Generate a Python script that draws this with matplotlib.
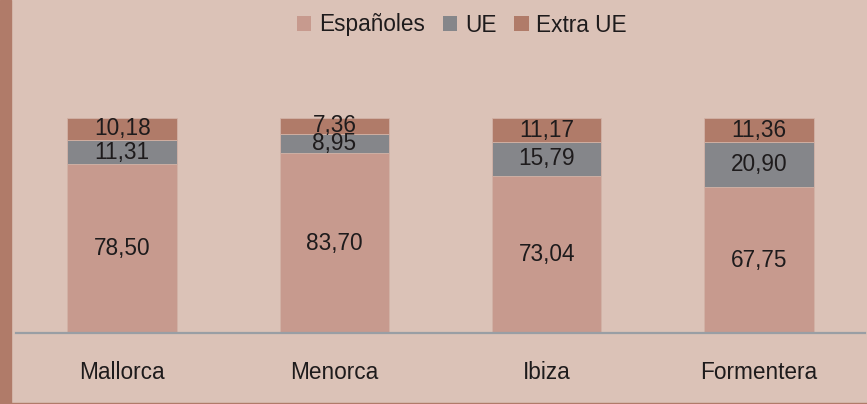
import matplotlib
matplotlib.use("Agg")
import matplotlib.pyplot as plt
from matplotlib.patches import Rectangle, Patch
import numpy as np

islands = ["Mallorca", "Menorca", "Ibiza", "Formentera"]
espanoles = [78.50, 83.70, 73.04, 67.75]
ue = [11.31, 8.95, 15.79, 20.90]
extra_ue = [10.18, 7.36, 11.17, 11.36]
series_names = ["Españoles", "UE", "Extra UE"]

bg = "#dbc2b7"
c_esp = "#c79a8e"
c_ue = "#85868a"
c_ext = "#b07b69"
fs = 16.3

plt.rcParams['font.family'] = ['Liberation Sans', 'DejaVu Sans']

W, H = 867, 404
fig = plt.figure(figsize=(W/100, H/100), dpi=100, facecolor=bg)
ax = fig.add_axes([16/W, (H-333)/H, (865-16)/W, 215/H])
ax.set_facecolor(bg)

x = np.arange(len(islands))
width = 0.515
bottoms = np.zeros(len(islands))
for vals, col in zip([espanoles, ue, extra_ue], [c_esp, c_ue, c_ext]):
    vals = np.array(vals)
    ax.bar(x, vals, width, bottom=bottoms, color=col, edgecolor="#d2b2a6", linewidth=0.6, zorder=2)
    for xi, b, v in zip(x, bottoms, vals):
        ax.text(xi, b + v/2, f"{v:.2f}".replace(".", ","), ha="center", va="center",
                fontsize=fs, color="#1e1b1c", zorder=3)
    bottoms = bottoms + vals

ax.set_xlim(-0.5, 3.5)
ax.set_ylim(0, 100)
ax.set_yticks([])
ax.set_xticks(x)
ax.set_xticklabels(islands, fontsize=fs, color="#1e1b1c")
ax.tick_params(axis="x", length=0, pad=20)
for s in ["top", "right", "left"]:
    ax.spines[s].set_visible(False)
ax.spines["bottom"].set_color("#999ea4")
ax.spines["bottom"].set_linewidth(1.6)

handles = [Patch(facecolor=c, edgecolor="none") for c in [c_esp, c_ue, c_ext]]
leg = fig.legend(handles, series_names, loc="center", bbox_to_anchor=(462/W, 1 - 25/H),
                 ncol=3, frameon=False, fontsize=fs, handlelength=0.62, handleheight=0.62,
                 handletextpad=0.35, columnspacing=0.8)
for t in leg.get_texts():
    t.set_color("#1e1b1c")

# left strip and bottom border
fig.patches.append(Rectangle((0, 0), 11/W, 1, transform=fig.transFigure, color=c_ext, zorder=0))
fig.patches.append(Rectangle((0, 0), 1, 1.5/H, transform=fig.transFigure, color=c_ext, zorder=0))

fig.savefig("out.png", dpi=100, facecolor=bg)
